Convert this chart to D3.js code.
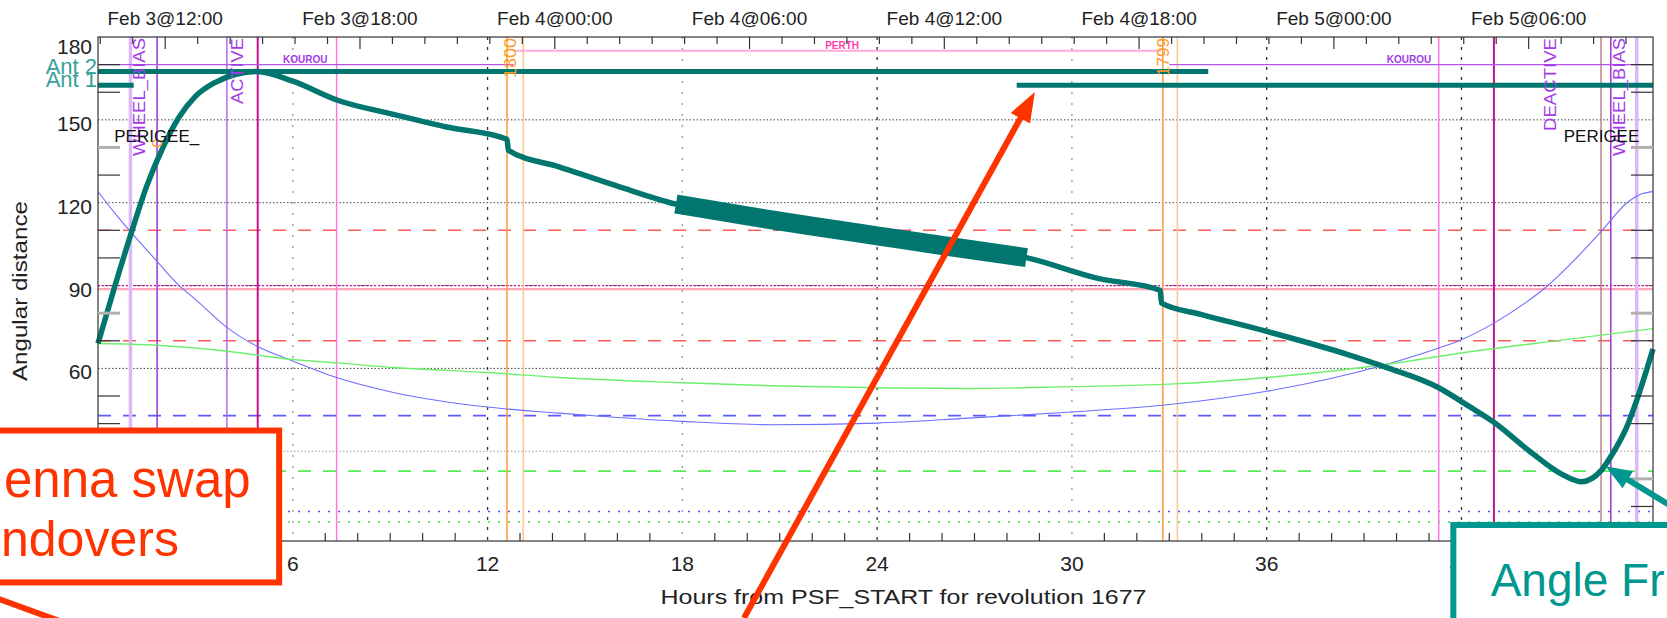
<!DOCTYPE html>
<html>
<head>
<meta charset="utf-8">
<script src="https://cdn.jsdelivr.net/npm/d3@7"></script>
<style>
html, body { margin: 0; padding: 0; background: #fff; overflow: hidden; }
svg { display: block; font-family: "Liberation Sans", Arial, Helvetica, sans-serif; }
</style>
</head>
<body>
<div id="chart"></div>
<script>
// ---- data ----
var hourTicks = [6, 12, 18, 24, 30, 36, 42];
var angleTicks = [0, 30, 60, 90, 120, 150, 180];
var topLabels = ["Feb 3@12:00", "Feb 3@18:00", "Feb 4@00:00", "Feb 4@06:00",
                 "Feb 4@12:00", "Feb 4@18:00", "Feb 5@00:00", "Feb 5@06:00"];
var psfOffset = 2.07;   // hours from PSF_START to Feb 3@12:00

// angle from Ant1 to ... (thick teal curve)
var tealHours  = [0, 0.5, 1.05, 1.5, 2.0, 2.5, 3.0, 3.6, 4.25, 4.9, 6.0, 7.4, 9.1, 10.7, 12.6, 12.64,
                  14.2, 16.0, 17.8, 20, 22, 24, 26, 28.6, 30.8, 32.72, 32.76, 34, 36, 38.5, 39.7,
                  41.3, 42.2, 43.0, 44.1, 45.2, 45.7, 46.3, 46.7, 47.1, 47.4, 47.9];
var tealAngles = [69, 89, 110, 126, 140, 151, 158.5, 163.5, 166.5, 167.5, 164, 157, 152, 147.5, 143, 139,
                  133, 126, 119.5, 115.2, 111.5, 108, 104.5, 100.1, 92.6, 88.3, 83.6, 79.5, 73.4, 65, 60.3,
                  53, 46.5, 40.5, 30, 21, 19, 23, 30, 39, 48.5, 67];
var bandStart = 17.8, bandEnd = 28.6;

var blueHours  = [0, 0.5, 1.0, 1.8, 2.5, 3.0, 4.0, 4.9, 6.0, 7.35, 9.1, 12.0, 14.2, 16, 18, 20.8, 24,
                  26.8, 30, 33, 36, 39.7, 41.3, 42, 43, 44, 44.6, 45.5, 46.3, 47.1, 47.5, 47.9];
var blueAngles = [124, 116.5, 109.5, 99, 90, 85, 74.6, 68, 62.7, 56.7, 51.3, 46, 43.8, 42.2, 40.8, 39.6, 40.2,
                  42, 44.2, 46.9, 51.7, 61.5, 67.4, 70.4, 76.4, 84, 89.4, 99.5, 109.5, 120, 123, 124];

var greenHours  = [0, 1.8, 4.0, 4.9, 6.0, 7.35, 9.1, 12.0, 14.2, 18, 21, 24, 26.8, 30, 33, 36, 39.7, 42, 45.2, 47.9];
var greenAngles = [69, 68.4, 66.2, 64.8, 63.2, 62, 60.3, 58.5, 56.7, 54.8, 53.6, 53, 52.7, 53.4, 54.3, 56.7, 61.5, 65.6, 70.4, 74.4];

// horizontal limit lines
var refLevels = [110, 70, 90, 88.7, 42.9, 22.8, 8.2, 4.4];
var refKinds  = ["redDash", "redDash", "magentaDot", "pinkSolid", "blueDash", "greenDash", "blueDot", "greenDot"];

// vertical event lines
var eventHours = [1.0, 1.82, 3.97, 4.92, 7.35, 12.6, 13.1, 32.8, 33.25, 41.3, 43.0, 46.3, 46.6, 47.4];
var eventKinds = ["wheel", "purple", "active", "magenta", "pink", "orange", "orangeLight",
                  "orange", "orangeLight", "pink", "magenta", "brown", "purple", "wheel"];

// rotated event labels
var eventLabels    = ["WHEEL_BIAS", "ACTIVE", "1800", "1799", "DEACTIVE", "WHEEL_BIAS", "0"];
var eventLabelHour = [1.45, 4.47, 12.87, 33.0, 44.9, 47.03, 1.98];
var eventLabelKind = ["purpleText", "purpleText", "orangeText", "orangeText", "purpleText", "purpleText", "orangeText"];

// ground station passes
var stationNames = ["KOUROU", "PERTH", "KOUROU"];
var stationFrom  = [0, 12.8, 33.0];
var stationTo    = [12.8, 32.74, 47.9];
var stationAngle = [170, 175, 170];
var stationLabelHour = [5.7, 22.4, 39.7];

// antenna in use
var antNames = ["Ant 2", "Ant 1", "Ant 1"];
var antFrom  = [0, 0, 28.3];
var antTo    = [34.2, 1.1, 47.9];
var antAngle = [167.5, 162.5, 162.5];

// ---- layout ----
var W = 1667, H = 618;
var margin = { left: 98, right: 14, top: 37, bottom: 77 };
var yMin = -2.5, hMax = 47.9;

var x = d3.scaleLinear().domain([0, hMax]).range([margin.left, W - margin.right]);
var y = d3.scaleLinear().domain([yMin, 180]).range([H - margin.bottom, margin.top]);

var svg = d3.select("#chart").append("svg").attr("width", W).attr("height", H);

var teal = "#00766f";
var refStyle = {
    redDash:    { stroke: "#ff5a5a", dash: "13,12", width: 1.6 },
    magentaDot: { stroke: "#cc11aa", dash: "2,2", width: 1.2 },
    pinkSolid:  { stroke: "#ff8fa8", dash: null, width: 2.2 },
    blueDash:   { stroke: "#5a5aff", dash: "13,12", width: 1.6 },
    greenDash:  { stroke: "#55ee55", dash: "13,12", width: 1.6 },
    blueDot:    { stroke: "#5050ff", dash: "2,8", width: 1.5 },
    greenDot:   { stroke: "#33ee33", dash: "2,8", width: 1.5 }
};
var eventStyle = {
    wheel:       { stroke: "#dcb8f6", width: 3.5 },
    purple:      { stroke: "#9b35d6", width: 1.5 },
    active:      { stroke: "#b46af0", width: 1.5 },
    magenta:     { stroke: "#c0148e", width: 2 },
    pink:        { stroke: "#ff78e6", width: 1.5 },
    orange:      { stroke: "#ffa040", width: 1.6 },
    orangeLight: { stroke: "#ffc890", width: 1.6 },
    brown:       { stroke: "#b07070", width: 1.3 }
};
var textColour = { purpleText: "#a23be6", orangeText: "#ff9a26" };

var plotTop = y(180), plotBottom = y(yMin);

// ---- grid ----
var grid = svg.append("g");
grid.selectAll("line.hgrid")
    .data(angleTicks.filter(function(d) { return d > 0 && d < 180; }))
    .enter().append("line")
    .attr("x1", x(0)).attr("x2", x(hMax))
    .attr("y1", function(d) { return y(d); }).attr("y2", function(d) { return y(d); })
    .attr("stroke", function(d) { return d == 30 ? "#999" : "#444"; })
    .attr("stroke-width", 1).attr("stroke-dasharray", "1.5,2");

grid.selectAll("line.vgrid")
    .data(hourTicks)
    .enter().append("line")
    .attr("x1", function(d) { return x(d); }).attr("x2", function(d) { return x(d); })
    .attr("y1", plotTop).attr("y2", plotBottom)
    .attr("stroke", function(d) { return d % 12 == 6 && d < 36 ? "#999" : "#333"; })
    .attr("stroke-width", 1.3)
    .attr("stroke-dasharray", function(d) { return d % 12 == 6 && d < 36 ? "2,9" : "3,7"; });

// ---- horizontal limit lines ----
svg.append("g").selectAll("line")
    .data(refLevels)
    .enter().append("line")
    .attr("x1", x(0)).attr("x2", x(hMax))
    .attr("y1", function(d) { return y(d); }).attr("y2", function(d) { return y(d); })
    .attr("stroke", function(d, i) { return refStyle[refKinds[i]].stroke; })
    .attr("stroke-width", function(d, i) { return refStyle[refKinds[i]].width; })
    .attr("stroke-dasharray", function(d, i) { return refStyle[refKinds[i]].dash; })
    .attr("opacity", function(d, i) { return refKinds[i] == "pinkSolid" ? 0.8 : 1; });

// ---- vertical event lines ----
svg.append("g").selectAll("line")
    .data(eventHours)
    .enter().append("line")
    .attr("x1", function(d) { return x(d); }).attr("x2", function(d) { return x(d); })
    .attr("y1", plotTop).attr("y2", plotBottom)
    .attr("stroke", function(d, i) { return eventStyle[eventKinds[i]].stroke; })
    .attr("stroke-width", function(d, i) { return eventStyle[eventKinds[i]].width; });

// ---- station passes ----
var stations = svg.append("g");
stationNames.forEach(function(name, i) {
    var c = name == "PERTH" ? "#ffaadd" : "#b456ee";
    stations.append("line")
        .attr("x1", x(stationFrom[i])).attr("x2", x(stationTo[i]))
        .attr("y1", y(stationAngle[i])).attr("y2", y(stationAngle[i]))
        .attr("stroke", c).attr("stroke-width", name == "PERTH" ? 2 : 1.3);
    stations.append("text")
        .attr("x", x(stationLabelHour[i])).attr("y", y(stationAngle[i]) - 2)
        .attr("font-size", 10).attr("font-weight", "bold")
        .attr("fill", name == "PERTH" ? "#ff3fae" : "#a23be6")
        .text(name);
});

// ---- thin curves ----
var line = d3.line()
    .x(function(d) { return x(d[0]); })
    .y(function(d) { return y(d[1]); })
    .curve(d3.curveMonotoneX);

svg.append("path")
    .datum(blueHours.map(function(h, i) { return [h, blueAngles[i]]; }))
    .attr("d", line).attr("fill", "none").attr("stroke", "#6e6eff").attr("stroke-width", 1.1);

svg.append("path")
    .datum(greenHours.map(function(h, i) { return [h, greenAngles[i]]; }))
    .attr("d", line).attr("fill", "none").attr("stroke", "#6cf06c").attr("stroke-width", 1.4);

// ---- antenna bars ----
svg.append("g").selectAll("line")
    .data(antNames)
    .enter().append("line")
    .attr("x1", function(d, i) { return x(antFrom[i]); })
    .attr("x2", function(d, i) { return x(antTo[i]); })
    .attr("y1", function(d, i) { return y(antAngle[i]); })
    .attr("y2", function(d, i) { return y(antAngle[i]); })
    .attr("stroke", teal).attr("stroke-width", 5);

// ---- main teal curve ----
var tealData = tealHours.map(function(h, i) { return [h, tealAngles[i]]; });
svg.append("path")
    .datum(tealData)
    .attr("d", line).attr("fill", "none").attr("stroke", teal)
    .attr("stroke-width", 5.5).attr("stroke-linejoin", "round");

svg.append("path")
    .datum(tealData.filter(function(d) { return d[0] >= bandStart && d[0] <= bandEnd; }))
    .attr("d", line).attr("fill", "none").attr("stroke", teal)
    .attr("stroke-width", 19).attr("stroke-linecap", "butt");

// ---- rotated event labels ----
svg.append("g").selectAll("text")
    .data(eventLabels)
    .enter().append("text")
    .attr("transform", function(d, i) {
        var top = d == "0" ? y(143) : plotTop + 1;
        return "translate(" + x(eventLabelHour[i]) + "," + top + ") rotate(-90)";
    })
    .attr("text-anchor", "end")
    .attr("font-size", function(d) { return d == "0" ? 15 : 17; })
    .attr("fill", function(d, i) { return textColour[eventLabelKind[i]]; })
    .attr("textLength", function(d) {
        return { "WHEEL_BIAS": 118, "ACTIVE": 66, "DEACTIVE": 93, "1800": 40, "1799": 38 }[d] || null;
    })
    .attr("lengthAdjust", "spacingAndGlyphs")
    .text(function(d) { return d; });

// perigee markers
var perigee = svg.append("g").attr("font-size", 17).attr("fill", "#111");
perigee.append("text").attr("x", x(0.5)).attr("y", y(142)).text("PERIGEE_");
perigee.append("text").attr("x", x(45.15)).attr("y", y(142)).text("PERIGEE");

// ---- frame and axes ----
svg.append("rect")
    .attr("x", x(0)).attr("y", plotTop)
    .attr("width", x(hMax) - x(0)).attr("height", plotBottom - plotTop)
    .attr("fill", "none").attr("stroke", "#333").attr("stroke-width", 1.2);

// minor angle ticks, both sides
var minorAngles = d3.range(10, 180, 10).filter(function(d) { return d % 30 != 0; });
[x(0), x(hMax)].forEach(function(x0, side) {
    svg.append("g").selectAll("line")
        .data(minorAngles)
        .enter().append("line")
        .attr("x1", x0).attr("x2", side == 0 ? x0 + 22 : x0 - 22)
        .attr("y1", function(d) { return y(d); }).attr("y2", function(d) { return y(d); })
        .attr("stroke", function(d) { return d % 60 == 20 ? "#b0b0b0" : "#333"; })
        .attr("stroke-width", function(d) { return d % 60 == 20 ? 3 : 1.2; });
});

// hourly ticks on bottom axis
svg.append("g").selectAll("line")
    .data(d3.range(1, 48).filter(function(h) { return h % 6 != 0; }))
    .enter().append("line")
    .attr("x1", function(d) { return x(d); }).attr("x2", function(d) { return x(d); })
    .attr("y1", plotBottom).attr("y2", plotBottom - 8)
    .attr("stroke", "#333").attr("stroke-width", 1.2);

// hourly ticks on top (calendar) axis
var topTicks = d3.range(-2, 46).map(function(k) { return psfOffset + k; })
    .filter(function(h) { return h > 0 && h < hMax; });
svg.append("g").selectAll("line")
    .data(topTicks)
    .enter().append("line")
    .attr("x1", function(d) { return x(d); }).attr("x2", function(d) { return x(d); })
    .attr("y1", plotTop)
    .attr("y2", function(d) { return Math.abs((d - psfOffset) % 6) < 0.01 ? plotTop + 12 : plotTop + 7; })
    .attr("stroke", "#333").attr("stroke-width", 1.2);

svg.append("g").selectAll("text")
    .data(topLabels)
    .enter().append("text")
    .attr("x", function(d, i) { return x(psfOffset + 6 * i); })
    .attr("y", 25)
    .attr("text-anchor", "middle").attr("font-size", 19).attr("fill", "#222")
    .text(function(d) { return d; });

svg.append("g").selectAll("text")
    .data(hourTicks)
    .enter().append("text")
    .attr("x", function(d) { return x(d); })
    .attr("y", plotBottom + 30)
    .attr("text-anchor", "middle").attr("font-size", 21).attr("fill", "#222")
    .text(function(d) { return d; });

// 0 and 30 sit under the red note box, so only the visible labels are drawn
svg.append("g").selectAll("text")
    .data(angleTicks.filter(function(d) { return d >= 60; }))
    .enter().append("text")
    .attr("x", x(0) - 6)
    .attr("y", function(d) { return y(d) + (d == 180 ? 17 : 11); })
    .attr("text-anchor", "end").attr("font-size", 21).attr("fill", "#222")
    .text(function(d) { return d; });

svg.append("text")
    .attr("x", (x(0) + x(hMax)) / 2 + 28).attr("y", plotBottom + 63)
    .attr("text-anchor", "middle").attr("font-size", 21).attr("fill", "#222")
    .attr("textLength", 486).attr("lengthAdjust", "spacingAndGlyphs")
    .text("Hours from PSF_START for revolution 1677");

svg.append("text")
    .attr("transform", "translate(27," + y(88) + ") rotate(-90)")
    .attr("text-anchor", "middle").attr("font-size", 20).attr("fill", "#222")
    .attr("textLength", 180).attr("lengthAdjust", "spacingAndGlyphs")
    .text("Angular distance");

// antenna labels
svg.append("g").selectAll("text")
    .data(["Ant 2", "Ant 1"])
    .enter().append("text")
    .attr("x", x(0) - 1)
    .attr("y", function(d, i) { return y(antAngle[i]) + 2; })
    .attr("text-anchor", "end").attr("font-size", 22).attr("fill", "#34a19a")
    .text(function(d) { return d; });

// ---- annotations ----
function arrow(g, x1, y1, x2, y2, colour, len, half, width) {
    var dx = x2 - x1, dy = y2 - y1, l = Math.sqrt(dx * dx + dy * dy);
    var ux = dx / l, uy = dy / l;
    g.append("line")
        .attr("x1", x1).attr("y1", y1)
        .attr("x2", x2 - ux * len * 0.8).attr("y2", y2 - uy * len * 0.8)
        .attr("stroke", colour).attr("stroke-width", width);
    g.append("polygon")
        .attr("points", [
            [x2, y2],
            [x2 - ux * len - uy * half, y2 - uy * len + ux * half],
            [x2 - ux * len + uy * half, y2 - uy * len - ux * half]
        ].map(function(p) { return p.join(","); }).join(" "))
        .attr("fill", colour);
}

var notes = svg.append("g");
var red = "#ff3300", noteTeal = "#00978f";

// red box: antenna swap handovers (left part is off the picture)
notes.append("rect")
    .attr("x", x(-4)).attr("y", y(37.5))
    .attr("width", x(5.58) - x(-4)).attr("height", y(-17.5) - y(37.5))
    .attr("fill", "#fff").attr("stroke", red).attr("stroke-width", 6);
notes.append("text").attr("x", 4).attr("y", y(13.5))
    .attr("font-size", 51).attr("fill", red).text("enna swap");
notes.append("text").attr("x", 1).attr("y", y(-8))
    .attr("font-size", 50).attr("fill", red).text("ndovers");
notes.append("line")
    .attr("x1", x(-3.4)).attr("y1", y(-22)).attr("x2", x(-0.6)).attr("y2", y(-34))
    .attr("stroke", red).attr("stroke-width", 6);

arrow(notes, x(19.9), y(-30.4), x(28.86), y(160.1), red, 30, 11, 6);

// teal box: angle note (cut by the picture edge)
notes.append("rect")
    .attr("x", x(41.75)).attr("y", y(3.3))
    .attr("width", 300).attr("height", 200)
    .attr("fill", "#fff").attr("stroke", noteTeal).attr("stroke-width", 6);
notes.append("text").attr("x", x(42.9)).attr("y", y(-22.5))
    .attr("font-size", 46).attr("fill", noteTeal).text("Angle Fr");
notes.append("text").attr("x", x(43.45)).attr("y", y(-42))
    .attr("font-size", 46).attr("fill", noteTeal).text("Ant1 to");

arrow(notes, x(48.7), y(8.4), x(46.44), y(24.6), noteTeal, 26, 10, 6);
</script>
</body>
</html>
